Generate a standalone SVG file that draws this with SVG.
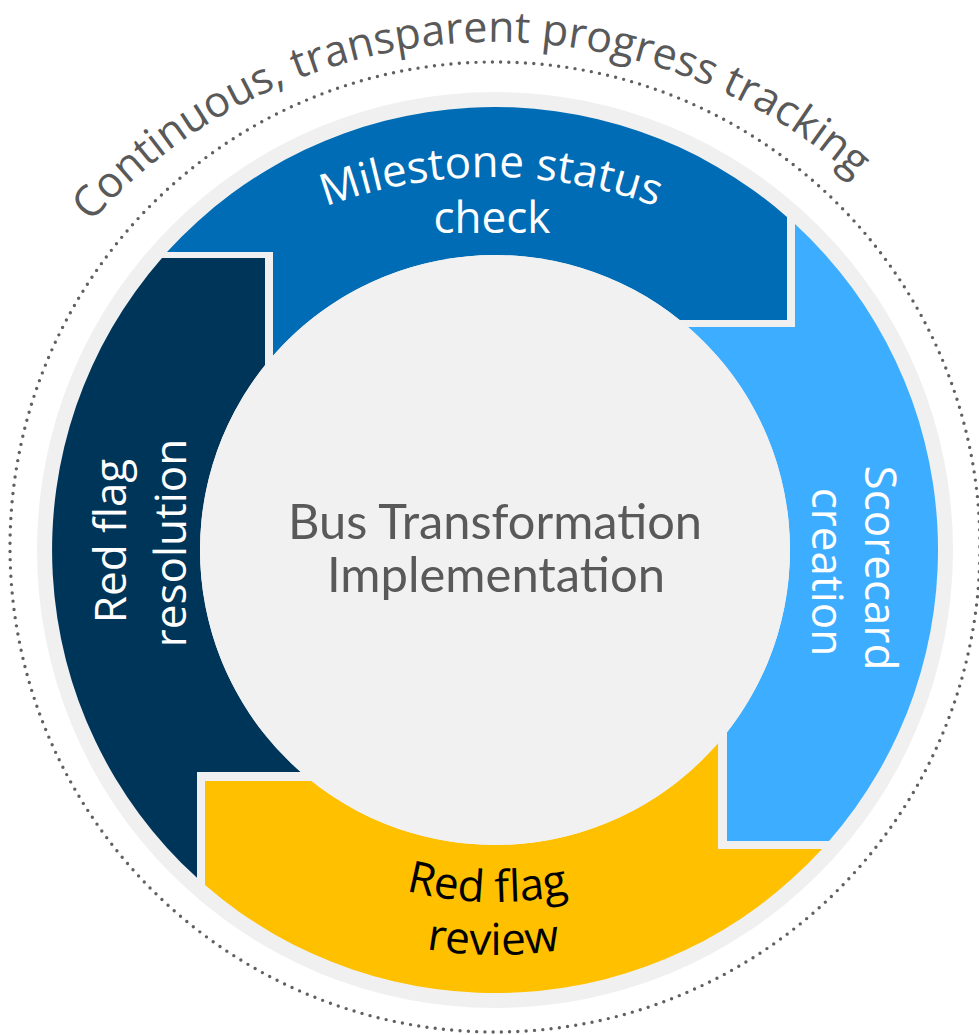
<svg xmlns="http://www.w3.org/2000/svg" width="979" height="1035" viewBox="0 0 979 1035">
  <style>
    .lbl { font-family: "Open Sans", "DejaVu Sans", sans-serif; font-size: 44px; fill: #FFFFFF; }
    .dark { fill: #000000; }
    .outer { font-family: "Open Sans", "DejaVu Sans", sans-serif; font-size: 43px; fill: #595959; }
    .center { font-family: Lato, "Open Sans", sans-serif; font-size: 48px; fill: #595959; }
  </style>
  <defs>
    <path id="outerArc" d="M 59.6 260.5 A 543 543 0 0 1 890.2 212.6"/>
    <path id="msArc" d="M 219.1 262.7 A 474 474 0 0 1 762.9 262.7"/>
    <path id="rfArc" d="M 225.4 776.3 A 352 352 0 0 0 764.6 776.3"/>
    <path id="rvArc" d="M 184.8 810.4 A 405 405 0 0 0 805.2 810.4"/>
  </defs>
  <rect width="979" height="1035" fill="#FFFFFF"/>
  <g id="tracking-ring">
    <circle cx="495" cy="547" r="485" fill="none" stroke="#606060" stroke-width="3.4" stroke-dasharray="0 8.3" stroke-linecap="round"/>
    <text class="outer"><textPath href="#outerArc" startOffset="50%" text-anchor="middle">Continuous, transparent progress tracking</textPath></text>
  </g>
  <circle cx="495" cy="550" r="458" fill="#F0F0F0"/>
  <g id="connectors"></g>
  <g id="node-milestone">
    <path d="M 167 252 A 443 443 0 0 1 787 217 L 787 320 L 679.7 320 A 295 295 0 0 0 273 355.7 L 273 252 Z" fill="#006CB6"/>
    <text class="lbl"><textPath href="#msArc" startOffset="50%" text-anchor="middle">Milestone status</textPath></text>
    <text class="lbl" x="492" y="233" text-anchor="middle">check</text>
  </g>
  <g id="node-scorecard">
    <path d="M 795 224 A 443 443 0 0 1 829 841 L 727 841 L 727 732.2 A 295 295 0 0 0 688 327 L 795 327 Z" fill="#3DAEFF"/>
    <text class="lbl" transform="translate(865,568) rotate(90)" text-anchor="middle">Scorecard</text>
    <text class="lbl" transform="translate(812,572) rotate(90)" text-anchor="middle">creation</text>
  </g>
  <g id="node-review">
    <path d="M 822 849 A 443 443 0 0 1 205 885 L 205 781 L 311.5 781 A 295 295 0 0 0 718 743.1 L 718 849 Z" fill="#FFC000"/>
    <text class="lbl dark"><textPath href="#rfArc" startOffset="299" text-anchor="middle">Red flag</textPath></text>
    <text class="lbl dark"><textPath href="#rvArc" startOffset="351.5" text-anchor="middle">review</textPath></text>
  </g>
  <g id="node-resolution">
    <path d="M 197 877.8 A 443 443 0 0 1 162 258 L 265 258 L 265 365.3 A 295 295 0 0 0 300.7 772 L 197 772 Z" fill="#00355A"/>
    <text class="lbl" transform="translate(126,541) rotate(-90)" text-anchor="middle">Red flag</text>
    <text class="lbl" transform="translate(186,543) rotate(-90)" text-anchor="middle">resolution</text>
  </g>
  <g id="node-center">
    <circle cx="495" cy="550" r="295" fill="#F1F1F1"/>
    <text class="center" x="495" y="539" text-anchor="middle" textLength="414" lengthAdjust="spacingAndGlyphs">Bus Transformation</text>
    <text class="center" x="496" y="592" text-anchor="middle" textLength="338" lengthAdjust="spacingAndGlyphs">Implementation</text>
  </g>
</svg>
